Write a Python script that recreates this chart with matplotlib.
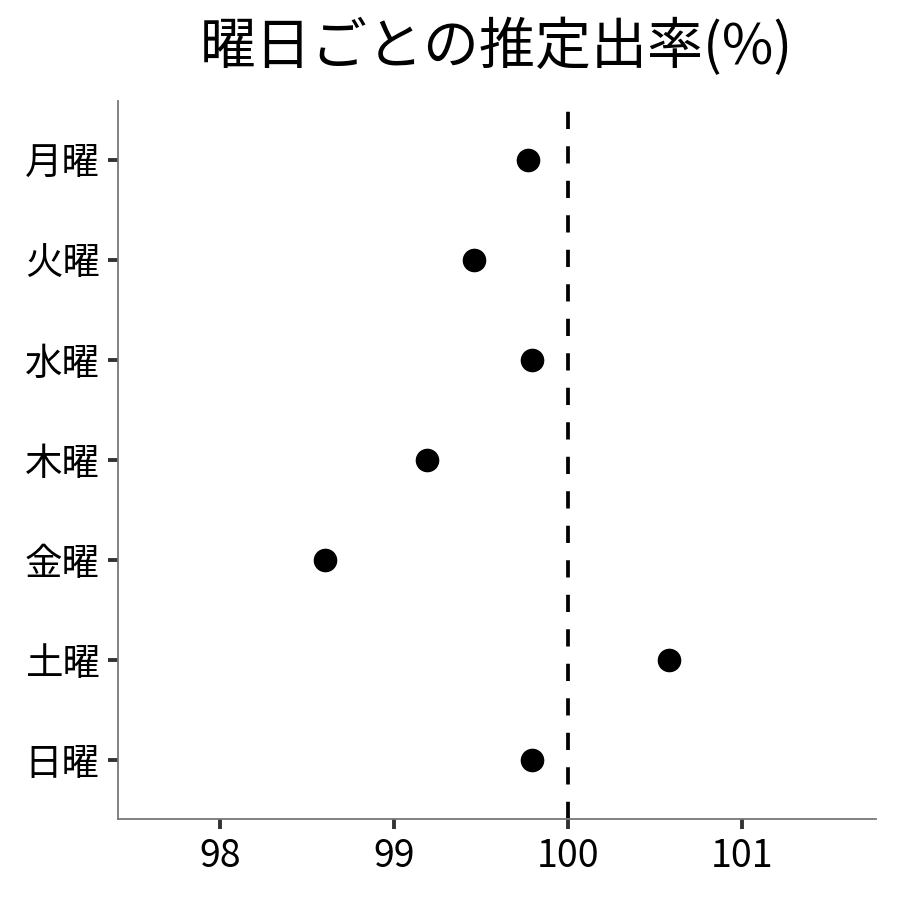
import matplotlib
matplotlib.use('Agg')
import matplotlib.pyplot as plt

plt.rcParams['font.family'] = ['Noto Sans CJK JP', 'DejaVu Sans']

days = ['月曜', '火曜', '水曜', '木曜', '金曜', '土曜', '日曜']
rates = [99.77, 99.46, 99.79, 99.19, 98.60, 100.58, 99.79]
ref_line = 100
x_ticks = [98, 99, 100, 101]

fig = plt.figure(figsize=(9, 9), dpi=100)
ax = fig.add_axes([0.131, 0.09, 0.842, 0.798])

ypos = list(range(len(days)))
ax.plot(rates, ypos, 'o', color='black', markersize=16, zorder=3)
ax.axvline(ref_line, color='black', linewidth=2.7, dashes=(4.6, 4.6), zorder=2)

ax.set_xlim(97.41, 101.77)
ax.set_ylim(len(days) - 1 + 0.59, -0.59)
ax.set_yticks(ypos)
ax.set_yticklabels(days)
ax.set_xticks(x_ticks)
ax.set_xticklabels([str(t) for t in x_ticks])

for side in ['top', 'right']:
    ax.spines[side].set_visible(False)
for side in ['left', 'bottom']:
    ax.spines[side].set_color('#777777')
    ax.spines[side].set_linewidth(1.3)

ax.tick_params(axis='both', direction='out', length=7, width=2.8, color='#333333',
               labelsize=27, labelcolor='black', pad=6)

fig.text(0.552, 0.947, '曜日ごとの推定出率(%)', fontsize=40.3, ha='center', va='center')

fig.savefig('out.png', dpi=100, facecolor='white')
